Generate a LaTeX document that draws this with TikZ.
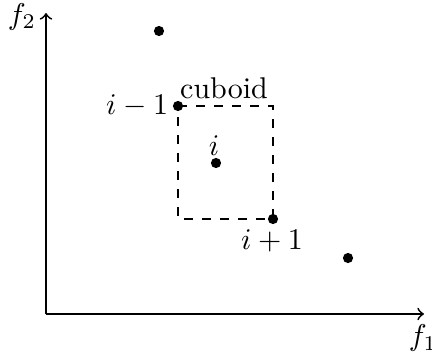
\documentclass[tikz,border=0pt]{standalone}
\begin{document}
\begin{tikzpicture}[x=0.33333pt,y=-0.33333pt,
  dot/.style={circle,fill=black,inner sep=0pt,minimum size=3.4pt},
  axis/.style={semithick,->},
  lbl/.style={inner sep=0pt}]
\useasboundingbox (0,0) rectangle (432,360);
\coordinate (O) at (46,314);
\coordinate (Y) at (46,13);
\coordinate (X) at (424,314);
\draw[axis] (O) -- (Y);
\draw[axis] (O) -- (X);
\node[lbl] (f2) at (22,17) {$f_2$};
\node[lbl] (f1) at (423,338) {$f_1$};
\node[dot] (p1) at (159,31) {};
\node[dot] (p2) at (178,106) {};
\node[dot] (p3) at (216,163) {};
\node[dot] (p4) at (273,219) {};
\node[dot] (p5) at (348,258) {};
\coordinate (c1) at (p2.center -| p4.center);
\coordinate (c2) at (p2.center |- p4.center);
\draw[dashed] (p2.center) -- (c1) -- (p4.center) -- (c2) -- cycle;
\node[lbl] (l2) at (137,106) {$i-1$};
\node[lbl] (lc) at (224,88) {cuboid};
\node[lbl] (l3) at (214,146) {$i$};
\node[lbl] (l4) at (272,241) {$i+1$};
\end{tikzpicture}
\end{document}
